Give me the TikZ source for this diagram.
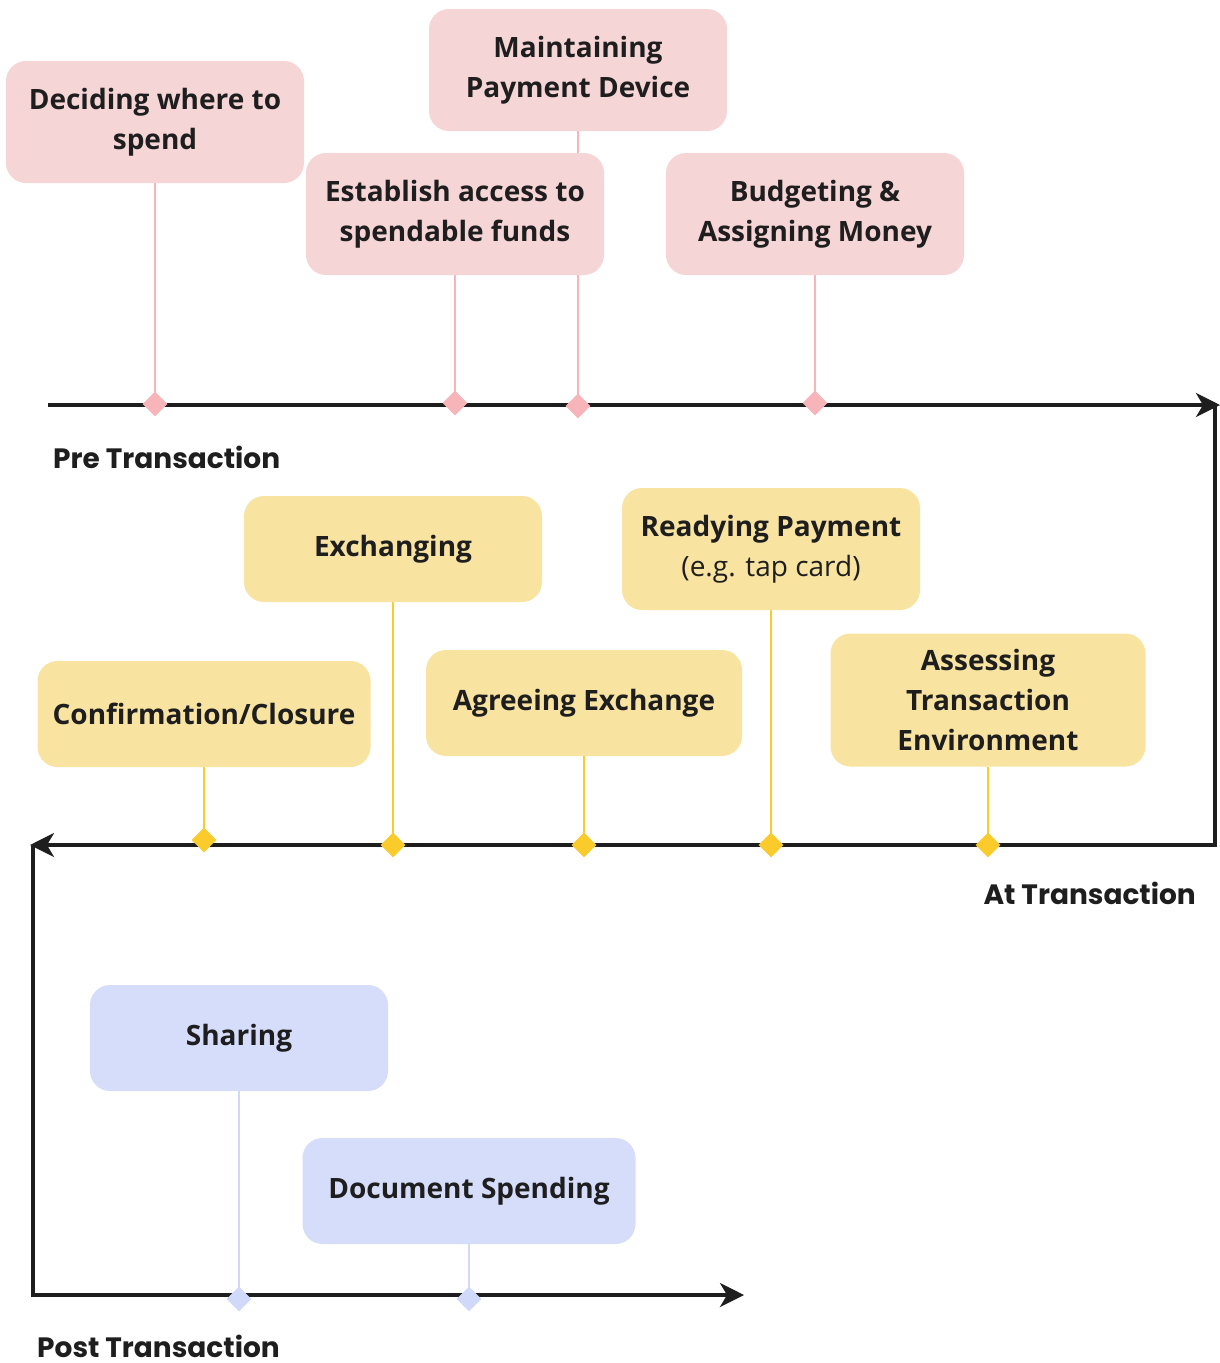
\documentclass[tikz,border=0pt]{standalone}
\usepackage{fontspec}
\setmainfont{Open Sans}
\newfontfamily\phasefont{Poppins}
\usetikzlibrary{shapes.geometric,arrows.meta}
\pgfdeclarelayer{back}
\pgfsetlayers{back,main}
\definecolor{inkdark}{HTML}{1E1E1E}
\definecolor{pinkfill}{HTML}{F6D5D6}
\definecolor{pinkmark}{HTML}{F7B5BA}
\definecolor{yellowfill}{HTML}{F8E3A1}
\definecolor{yellowmark}{HTML}{FBCB2C}
\definecolor{bluefill}{HTML}{D5DDFA}
\definecolor{bluemark}{HTML}{D0D9FA}
\tikzset{
  stagebox/.style={rounded corners=20pt, inner sep=0pt, align=center,
    text=inkdark, font=\fontsize{28}{40}\selectfont\bfseries},
  prebox/.style={stagebox, fill=pinkfill, minimum width=298pt, minimum height=122pt},
  atbox/.style={stagebox, fill=yellowfill},
  postbox/.style={stagebox, fill=bluefill},
  gem/.style={diamond, inner sep=0pt, minimum size=25pt},
  pregem/.style={gem, fill=pinkmark},
  atgem/.style={gem, fill=yellowmark},
  postgem/.style={gem, fill=bluemark},
  prestem/.style={draw=pinkmark, line width=2.5pt},
  atstem/.style={draw=yellowmark, line width=2.5pt},
  poststem/.style={draw=bluemark, line width=2.5pt},
  axis/.style={draw=inkdark, line width=3.5pt, -{Stealth[length=24pt,width=24pt,inset=7pt]}},
  phase/.style={font=\fontsize{28}{32}\selectfont\phasefont\bfseries, text=inkdark, inner sep=0pt}
}
\begin{document}
\begin{tikzpicture}[x=1pt,y=-1pt]
\useasboundingbox (0,0) rectangle (1220,1363);

% ---- pre transaction ----
\node[prebox] (decide) at (155,122) {Deciding where to\\spend};
\node[prebox] (maintain) at (578,70) {Maintaining\\Payment Device};
\node[prebox] (establish) at (455,214) {Establish access to\\spendable funds};
\node[prebox] (budget) at (815,214) {Budgeting \&\\Assigning Money};

% ---- at transaction ----
\node[atbox, minimum width=298pt, minimum height=106pt] (exchanging) at (393,549) {Exchanging};
\node[atbox, minimum width=298pt, minimum height=122pt] (readying) at (771,549)
  {Readying Payment\\{\mdseries (e.g. tap card)}};
\node[atbox, minimum width=333pt, minimum height=106pt] (confirm) at (204,714) {Confirmation/Closure};
\node[atbox, minimum width=316pt, minimum height=106pt] (agree) at (584,703) {Agreeing Exchange};
\node[atbox, minimum width=315pt, minimum height=133pt] (assess) at (988,700)
  {Assessing\\Transaction\\Environment};

% ---- post transaction ----
\node[postbox, minimum width=298pt, minimum height=106pt] (sharing) at (239,1038) {Sharing};
\node[postbox, minimum width=333pt, minimum height=106pt] (document) at (469,1191) {Document Spending};

% ---- markers on the time lines ----
\node[pregem] (dDecide) at (155,404) {};
\node[pregem] (dEstablish) at (455,403) {};
\node[pregem] (dMaintain) at (578,406) {};
\node[pregem] (dBudget) at (815,403) {};

\node[atgem] (dConfirm) at (204,840) {};
\node[atgem] (dExchanging) at (393,845) {};
\node[atgem] (dAgree) at (584,845) {};
\node[atgem] (dReadying) at (771,845) {};
\node[atgem] (dAssess) at (988,845) {};

\node[postgem] (dSharing) at (239,1299) {};
\node[postgem] (dDocument) at (469,1299) {};

% ---- turning points of the time line ----
\coordinate (preStart) at (48,405);
\coordinate (preEnd) at (1220,405);
\coordinate (rightTop) at (1215,405);
\coordinate (rightBottom) at (1215,845);
\coordinate (atEnd) at (30,845);
\coordinate (leftTop) at (33,845);
\coordinate (leftBottom) at (33,1295);
\coordinate (postEnd) at (744,1295);

\begin{pgfonlayer}{back}
  \draw[prestem] (decide.south) -- (dDecide.center);
  \draw[prestem] (maintain.south) -- (dMaintain.center);
  \draw[prestem] (establish.south) -- (dEstablish.center);
  \draw[prestem] (budget.south) -- (dBudget.center);
  \draw[atstem] (confirm.south) -- (dConfirm.center);
  \draw[atstem] (exchanging.south) -- (dExchanging.center);
  \draw[atstem] (agree.south) -- (dAgree.center);
  \draw[atstem] (readying.south) -- (dReadying.center);
  \draw[atstem] (assess.south) -- (dAssess.center);
  \draw[poststem] (sharing.south) -- (dSharing.center);
  \draw[poststem] (document.south) -- (dDocument.center);

  \draw[axis] (preStart) -- (preEnd);
  \draw[axis] (rightTop) -- (rightBottom) -- (atEnd);
  \draw[axis] (leftTop) -- (leftBottom) -- (postEnd);
\end{pgfonlayer}

% ---- phase labels ----
\node[phase, anchor=base west] (preLabel) at (53,468) {Pre Transaction};
\node[phase, anchor=base east] (atLabel) at (1196,904) {At Transaction};
\node[phase, anchor=base west] (postLabel) at (37,1357) {Post Transaction};
\end{tikzpicture}
\end{document}
